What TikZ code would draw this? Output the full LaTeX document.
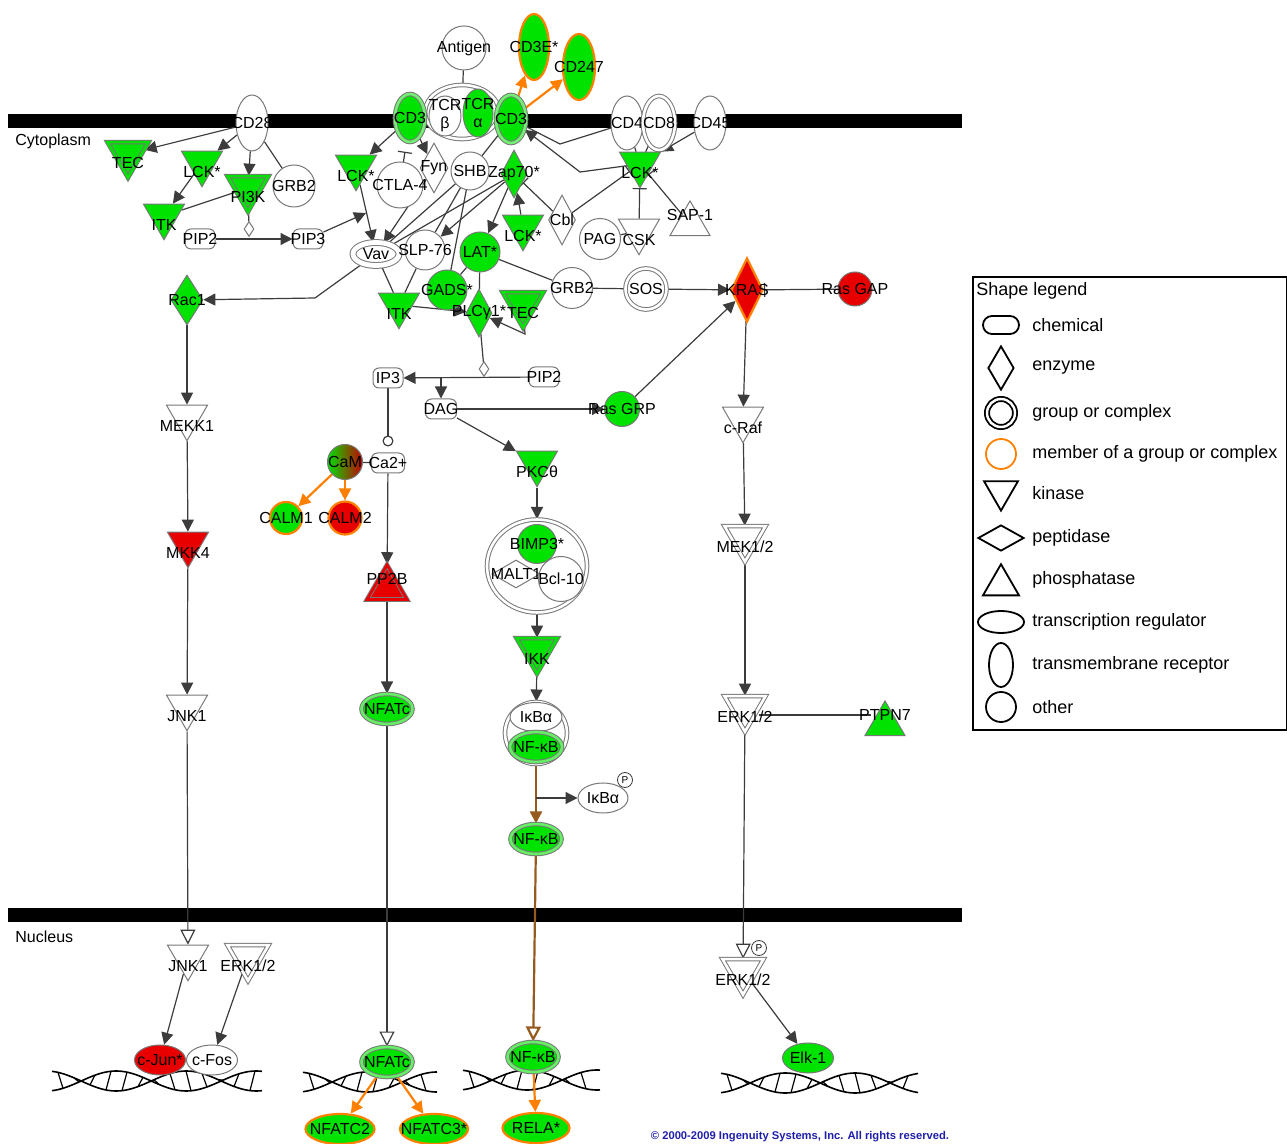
\documentclass[tikz,border=0pt]{standalone}
\usepackage{fontspec}
\setmainfont{Liberation Sans}
\usepackage{tikz}
\usetikzlibrary{shapes.geometric, arrows.meta, calc}
\pgfdeclarelayer{background}
\pgfsetlayers{background,main}

\definecolor{ipagreen}{RGB}{0,226,0}
\definecolor{ipared}{RGB}{232,0,0}
\definecolor{ipaorange}{RGB}{255,128,0}
\definecolor{edgegray}{RGB}{120,120,120}
\definecolor{linkgray}{RGB}{60,60,60}
\definecolor{nfkbbrown}{RGB}{150,90,30}
\definecolor{copyblue}{RGB}{30,30,170}

\newcommand{\lblfont}{\fontsize{8}{9}\selectfont}

\begin{document}
\begin{tikzpicture}[
        x=0.5pt, y=-0.5pt,
        font=\lblfont,
        % node shapes
        shp/.style={draw=edgegray, line width=0.5pt, inner sep=0pt, fill=white},
        lbl/.style={font=\lblfont, inner sep=0pt, align=center},
        kinase/.style={shp, regular polygon, regular polygon sides=3, shape border rotate=180, minimum size=23.7pt, label={[lbl, yshift=-4.5pt]center:#1}},
        phosph/.style={shp, regular polygon, regular polygon sides=3, minimum size=23.1pt, label={[lbl, yshift=4.5pt]center:#1}},
        enzyme/.style={shp, diamond, minimum width=14pt, minimum height=25pt, label={[lbl]center:#1}},
        pept/.style={shp, diamond, minimum width=24pt, minimum height=14pt, label={[lbl]center:#1}},
        chem/.style={shp, rectangle, rounded corners=3pt, minimum width=15pt, minimum height=10pt, label={[lbl]center:#1}},
        other/.style={shp, circle, minimum size=20pt, label={[lbl]center:#1}},
        treg/.style={shp, ellipse, minimum width=25.5pt, minimum height=15pt, label={[lbl]center:#1}},
        receptor/.style={shp, ellipse, minimum width=16pt, minimum height=27pt, label={[lbl]center:#1}},
        cat/.style={shp, diamond, minimum width=5pt, minimum height=7.5pt},
        pmark/.style={draw=linkgray, circle, fill=white, minimum size=7.5pt, inner sep=0pt, font=\fontsize{5}{5}\selectfont},
        grp/.style={double=#1, double distance=1.3pt}, grp/.default=white,
        gfill/.style={fill=ipagreen},
        rfill/.style={fill=ipared},
        member/.style={draw=ipaorange, line width=1.1pt},
        % connectors
        link/.style={draw=linkgray, line width=0.6pt},
        arrow/.style={link, -{Triangle[width=6pt, length=6pt]}},
        inhib/.style={link, -{Bar[width=7pt]}},
        circ/.style={link, -{Circle[open, length=5.5pt]}, shorten >=3pt},
        transl/.style={link, -{Triangle[open, width=7.5pt, length=7.5pt]}},
        oarrow/.style={draw=ipaorange, line width=1.1pt, -{Triangle[width=6pt, length=6pt]}},
        brownarrow/.style={draw=nfkbbrown, line width=1.1pt, -{Triangle[width=6pt, length=6pt]}},
        browntransl/.style={draw=nfkbbrown, line width=1.1pt, -{Triangle[open, width=7.5pt, length=7.5pt]}},
        % legend
        lgsym/.style={draw=black, line width=0.9pt, inner sep=0pt, fill=white},
        lgtxt/.style={anchor=west, font=\fontsize{9}{11}\selectfont, inner sep=0pt}
    ]
    \useasboundingbox (0,0) rectangle (1287,1144);

    % --- 1. MEMBRANES AND DNA ---
    \begin{pgfonlayer}{background}
    \fill[black] (8,114) rectangle (962,128);
    \fill[black] (8,908) rectangle (962,922);
    \foreach \xa/\xb/\yc/\n in {52/262/1081/12, 303/437/1082/7, 463/600/1080/7, 721/918/1083/11} {
        \draw[line width=0.8pt] plot[domain=\xa:\xb, samples=70] (\x, {\yc+10*sin((\x-\xa)/140*360+105)});
        \draw[line width=0.8pt] plot[domain=\xa:\xb, samples=70] (\x, {\yc-10*sin((\x-\xa)/140*360+105)});
        \foreach \k in {0,...,\n}
            \draw[line width=0.6pt] ({\xa+6+16*\k}, {\yc-10*sin((6+16*\k)/140*360+105)}) -- ({\xa+11+16*\k}, {\yc+10*sin((11+16*\k)/140*360+105)});
    }
    \end{pgfonlayer}

    \node[anchor=west, inner sep=0pt] (cyto) at (15,141) {Cytoplasm};
    \node[anchor=west, inner sep=0pt] (nucl) at (15,937) {Nucleus};

    % --- 2. RECEPTORS AT THE MEMBRANE ---
    \node[other=Antigen, minimum size=22pt] (antigen) at (464,48) {};
    \node[shp, ellipse, grp, minimum width=37pt, minimum height=27pt] (tcr) at (462,112) {};
    \node[other={TCR\\β}, ellipse, minimum width=16pt, minimum height=20pt] (tcrb) at (445,116) {};
    \node[receptor={TCR\\α}, gfill, minimum width=15pt, minimum height=24pt] (tcra) at (478,113) {};
    \node[receptor=CD3, gfill, grp=ipagreen!55!white, minimum width=15pt, minimum height=24pt] (cd3l) at (410,118) {};
    \node[receptor=CD3, gfill, grp=ipagreen!55!white, minimum width=15pt, minimum height=24pt] (cd3r) at (511,119) {};
    \node[receptor=CD3E*, gfill, member, minimum width=15pt, minimum height=33pt] (cd3e) at (534,47) {};
    \node[receptor=CD247, gfill, member, minimum width=16pt, minimum height=33pt] (cd247) at (579,67) {};
    \node[receptor=CD28, minimum height=28pt] (cd28) at (252,123) {};
    \node[receptor=CD4] (cd4) at (627,123) {};
    \node[receptor=CD8, grp] (cd8) at (659,123) {};
    \node[receptor=CD45] (cd45) at (710,123) {};

    % --- 3. CD28 BRANCH ---
    \node[kinase=TEC, gfill, grp=ipagreen] (tec1) at (128,154) {};
    \node[kinase=LCK*, gfill] (lck1) at (202,163) {};
    \node[kinase=PI3K, gfill, grp=ipagreen] (pi3k) at (248,188) {};
    \node[other=GRB2, minimum size=21pt] (grb2a) at (294,186) {};
    \node[kinase=ITK, gfill] (itk1) at (164,216) {};
    \node[chem=PIP2] (pip2a) at (200,239) {};
    \node[chem=PIP3] (pip3) at (308,239) {};
    \node[cat] (cat1) at (249,229) {};
    \node[enzyme=Rac1, gfill, minimum width=16pt] (rac1) at (187,300) {};
    \coordinate (pip3end) at (366,213);

    % --- 4. TCR PROXIMAL SIGNALLING ---
    \node[kinase=LCK*, gfill] (lck2) at (356,167) {};
    \node[other=CTLA-4, minimum size=23pt] (ctla4) at (400,185) {};
    \node[enzyme=Fyn] (fyn) at (434,168) {};
    \node[enzyme=Zap70*, gfill, minimum width=13pt, minimum height=24pt] (zap70) at (514,174) {};
    \node[other=SHB, minimum size=19pt] (shb) at (470,171) {};
    \node[kinase=LCK*, gfill] (lck3) at (523,227) {};
    \node[enzyme=Cbl, minimum width=13.5pt] (cbl) at (562,220) {};
    \node[other=PAG, minimum size=20.5pt] (pag) at (600,239) {};
    \node[kinase=CSK] (csk) at (639,231) {};
    \node[phosph=SAP-1] (sap1) at (690,224) {};
    \node[kinase=LCK*, gfill] (lck4) at (640,164) {};
    \node[treg=Vav, grp, double distance=2.4pt, minimum width=23pt, minimum height=11.5pt] (vav) at (376,254) {};
    \node[other=SLP-76] (slp76) at (425,250) {};
    \node[other=LAT*, gfill] (lat) at (480,252) {};
    \node[other=GADS*, gfill] (gads) at (447,290) {};
    \node[kinase=ITK, gfill] (itk2) at (399,305) {};
    \node[enzyme=PLCγ1*, gfill, minimum width=13pt, minimum height=24pt] (plcg) at (479,313) {};
    \node[kinase=TEC, gfill, grp=ipagreen] (tec2) at (523,304) {};
    \node[other=GRB2, minimum size=20.5pt] (grb2b) at (572,288) {};
    \node[other=SOS, grp, minimum size=20.5pt] (sos) at (646,289) {};
    \node[enzyme=KRAS, rfill, member, minimum width=16pt, minimum height=32pt] (kras) at (747,290) {};
    \node[other=Ras GAP, rfill, minimum size=17pt] (rasgap) at (855,289) {};

    % --- 5. SECOND MESSENGERS ---
    \node[cat] (cat2) at (484,369) {};
    \node[chem=IP3] (ip3) at (388,378) {};
    \node[chem=PIP2] (pip2b) at (544,377) {};
    \node[chem=DAG, minimum width=15.5pt] (dag) at (441,409) {};
    \node[other=Ras GRP, gfill, minimum size=17.5pt] (rasgrp) at (622,409) {};
    \node[kinase=PKCθ, gfill] (pkc) at (537,463) {};
    \node[chem=Ca2+, minimum width=16.5pt] (ca2) at (388,463) {};
    \node[other=CaM, left color=ipagreen, middle color=ipagreen, right color=ipared!85!black, minimum size=17.5pt] (cam) at (345,462) {};
    \node[other=CALM1, gfill, member, minimum size=16pt] (calm1) at (286,518) {};
    \node[other=CALM2, rfill, member, minimum size=16.5pt] (calm2) at (345,518) {};
    \node[phosph=PP2B, rfill, grp=ipared] (pp2b) at (387,588) {};
    \node[treg=NFATc, gfill, grp=ipagreen!60!white] (nfatc1) at (387,709) {};

    % --- 6. NF-kB BRANCH ---
    \node[shp, ellipse, grp, minimum width=50pt, minimum height=46.5pt] (cbm) at (537,566) {};
    \node[pept=MALT1] (malt1) at (516,574) {};
    \node[other=Bcl-10, minimum size=22.5pt] (bcl10) at (561,579) {};
    \node[other=BIMP3*, gfill, minimum size=19.5pt] (bimp3) at (537,544) {};
    \node[kinase=IKK, gfill, grp=ipagreen] (ikk) at (537,650) {};
    \node[shp, circle, grp, minimum size=31pt] (ikbcplx) at (536,733) {};
    \node[treg=IκBα, minimum width=26pt, minimum height=14.5pt] (ikba1) at (536,717) {};
    \node[treg=NF-κB, gfill, grp=ipagreen!60!white, minimum width=26pt] (nfkb1) at (536,747) {};
    \node[treg=IκBα, minimum width=25pt] (ikba2) at (603,798) {};
    \node[pmark] (p1) at (625,780) {P};
    \node[treg=NF-κB, gfill, grp=ipagreen!60!white] (nfkb2) at (536,839) {};

    % --- 7. MAP KINASE CASCADES ---
    \node[kinase=MEKK1] (mekk1) at (187,417) {};
    \node[kinase=MKK4, rfill] (mkk4) at (188,544) {};
    \node[kinase=JNK1] (jnk1) at (187,707) {};
    \node[kinase=c-Raf] (craf) at (743,419) {};
    \node[kinase=MEK1/2, grp] (mek) at (745,538) {};
    \node[kinase=ERK1/2, grp] (erk) at (745,708) {};
    \node[phosph=PTPN7, gfill] (ptpn7) at (885,724) {};

    % --- 8. NUCLEUS ---
    \node[kinase=JNK1] (jnk1n) at (188,957) {};
    \node[kinase=ERK1/2, grp] (erkn1) at (248,957) {};
    \node[treg=c-Jun*, rfill] (cjun) at (160,1060) {};
    \node[treg=c-Fos] (cfos) at (212,1060) {};
    \node[treg=NFATc, gfill, grp=ipagreen!60!white] (nfatcn) at (387,1062) {};
    \node[treg=NFATC2, gfill, member, minimum width=34.5pt] (nfatc2) at (340,1129) {};
    \node[treg=NFATC3*, gfill, member, minimum width=34pt] (nfatc3) at (434,1129) {};
    \node[treg=NF-κB, gfill, grp=ipagreen!60!white] (nfkb3) at (533,1057) {};
    \node[treg=RELA*, gfill, member, minimum width=33.5pt] (rela) at (536,1128) {};
    \node[kinase=ERK1/2, grp] (erkn2) at (743,971) {};
    \node[pmark] (p2) at (759,948) {P};
    \node[treg=Elk-1, gfill] (elk1) at (808,1058) {};

    \node[text=copyblue, font=\fontsize{5.6}{6}\selectfont\bfseries] (copyr) at (800,1137) {© 2000-2009 Ingenuity Systems, Inc. All rights reserved.};

    % --- 9. CONNECTORS ---
    \begin{pgfonlayer}{background}
    % CD28 branch
    \draw[arrow] (cd28) -- (tec1);
    \draw[arrow] (cd28) -- (lck1);
    \draw[arrow] (cd28) -- (pi3k);
    \draw[link] (cd28) -- (grb2a);
    \draw[arrow] (lck1) -- (itk1);
    \draw[link] (pi3k) -- (itk1);
    \draw[link] (pi3k) -- (cat1);
    \draw[arrow] (pip2a) -- (pip3);
    \draw[arrow] (pip3) -- (pip3end);
    \draw[arrow] (vav) -- (315,298) -- (rac1);

    % TCR complex
    \draw[link] (antigen) -- (tcr);
    \draw[oarrow] (cd3r) -- (cd3e);
    \draw[oarrow] (cd3r) -- (cd247);
    \draw[arrow] (cd3l) -- (lck2);
    \draw[arrow] (cd3l) -- (fyn);
    \draw[inhib, shorten >=5pt] (ctla4) -- (cd3l);
    \draw[link] (cd3r) -- (shb);
    \draw[arrow] (lck2) -- (vav);
    \draw[arrow] (fyn) -- (vav);
    \draw[link] (shb) -- (vav);
    \draw[link] (shb) -- (slp76);
    \draw[link] (shb) -- (gads);
    \draw[link] (zap70) -- (vav);
    \draw[arrow] (zap70) -- (slp76);
    \draw[arrow] (zap70) -- (lat);
    \draw[arrow] (lck3) -- (zap70);
    \draw[inhib] (cbl) -- (zap70);
    \draw[link] (vav) -- (itk2);
    \draw[link] (slp76) -- (itk2);
    \draw[arrow] (itk2) -- (plcg);
    \draw[link] (lat) -- (gads);
    \draw[link] (lat) -- (plcg);
    \draw[link] (lat) -- (grb2b);
    \draw[arrow] (tec2) -- (525,334) -- (plcg);
    \draw[link] (grb2b) -- (sos);
    \draw[arrow] (sos) -- (kras);
    \draw[inhib] (rasgap) -- (kras);

    % LCK regulation
    \draw[arrow] (cd45) -- (lck4);
    \draw[link] (cd4) -- (lck4);
    \draw[link] (cd8) -- (lck4);
    \draw[arrow] (lck4) -- (580,172) -- (cd3r);
    \draw[link] (cd4) -- (560,144) -- (cd3r);
    \draw[inhib] (cbl) -- (lck4);
    \draw[inhib] (csk) -- (lck4);
    \draw[inhib] (sap1) -- (lck4);
    \draw[link] (pag) -- (csk);

    % second messengers
    \draw[link] (plcg) -- (cat2);
    \draw[arrow] (pip2b) -- (ip3);
    \coordinate (dagsplit) at (dag.north |- ip3);
    \draw[arrow] (dagsplit) -- (dag);
    \draw[arrow] (dag) -- (rasgrp);
    \draw[arrow] (rasgrp) -- (kras);
    \draw[arrow] (dag) -- (pkc);
    \draw[circ] (ip3) -- (ca2);
    \draw[link] (cam) -- (ca2);
    \draw[oarrow] (cam) -- (calm1);
    \draw[oarrow] (cam) -- (calm2);
    \draw[arrow] (ca2) -- (pp2b);
    \draw[arrow] (pp2b) -- (nfatc1);
    \draw[transl] (nfatc1) -- (nfatcn);
    \draw[oarrow] (nfatcn) -- (nfatc2);
    \draw[oarrow] (nfatcn) -- (nfatc3);

    % NF-kB
    \draw[arrow] (pkc) -- (cbm);
    \draw[arrow] (cbm) -- (ikk);
    \draw[arrow] (ikk) -- (ikbcplx);
    \draw[brownarrow] (ikbcplx) -- (nfkb2);
    \coordinate (ikbsplit) at (ikbcplx.south |- ikba2);
    \draw[arrow] (ikbsplit) -- (ikba2);
    \draw[browntransl] (nfkb2) -- (nfkb3);
    \draw[oarrow] (nfkb3) -- (rela);

    % MAPK
    \draw[arrow] (rac1) -- (mekk1);
    \draw[arrow] (mekk1) -- (mkk4);
    \draw[arrow] (mkk4) -- (jnk1);
    \draw[transl] (jnk1) -- (jnk1n);
    \draw[arrow] (jnk1n) -- (cjun);
    \draw[arrow] (erkn1) -- (cfos);
    \draw[arrow] (kras) -- (craf);
    \draw[arrow] (craf) -- (mek);
    \draw[arrow] (mek) -- (erk);
    \draw[link] ([yshift=-3.5pt]erk.east) -- ([yshift=4.5pt]ptpn7.west);
    \draw[transl] (erk) -- (erkn2);
    \draw[arrow] (erkn2) -- (elk1);
    \end{pgfonlayer}

    % --- 10. SHAPE LEGEND ---
    \node[draw=black, line width=1.1pt, anchor=north west, minimum width=157pt, minimum height=226.5pt] (legend) at (972,276) {};
    \node[lgtxt] (lgtitle) at (976,291) {Shape legend};
    \node[lgsym, rectangle, rounded corners=4.5pt, minimum width=18pt, minimum height=9pt] (lgchem) at (1001,325) {};
    \node[lgtxt] at (1032,325) {chemical};
    \node[lgsym, diamond, minimum width=13pt, minimum height=22pt] (lgenz) at (1001,368) {};
    \node[lgtxt] at (1032,368) {enzyme};
    \node[lgsym, circle, double=white, double distance=1.2pt, minimum size=14pt] (lggrp) at (1001,413) {};
    \node[lgtxt] at (1032,413) {group or complex};
    \node[lgsym, circle, draw=ipaorange, minimum size=15pt] (lgmem) at (1001,454) {};
    \node[lgtxt] at (1032,454) {member of a group or complex};
    \node[lgsym, regular polygon, regular polygon sides=3, shape border rotate=180, minimum size=19.6pt] (lgkin) at (1001,491) {};
    \node[lgtxt] at (1032,493) {kinase};
    \node[lgsym, diamond, minimum width=23pt, minimum height=13pt] (lgpep) at (1001,538) {};
    \node[lgtxt] at (1032,538) {peptidase};
    \node[lgsym, regular polygon, regular polygon sides=3, minimum size=20.8pt] (lgpho) at (1001,585) {};
    \node[lgtxt] at (1032,580) {phosphatase};
    \node[lgsym, ellipse, minimum width=23pt, minimum height=11pt] (lgtreg) at (1001,622) {};
    \node[lgtxt] at (1032,622) {transcription regulator};
    \node[lgsym, ellipse, minimum width=12pt, minimum height=22pt] (lgrec) at (1001,665) {};
    \node[lgtxt] at (1032,665) {transmembrane receptor};
    \node[lgsym, circle, minimum size=15pt] (lgoth) at (1001,707) {};
    \node[lgtxt] at (1032,707) {other};

\end{tikzpicture}
\end{document}
